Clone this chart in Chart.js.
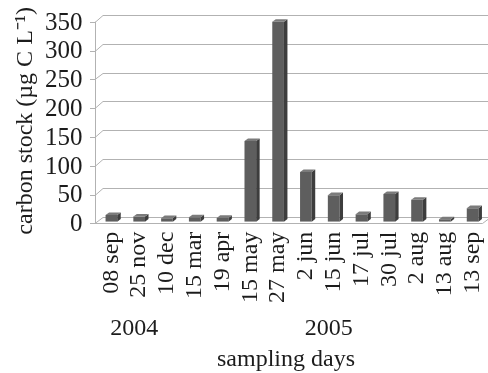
<!DOCTYPE html>
<html>
<head>
<meta charset="utf-8">
<script src="https://cdn.jsdelivr.net/npm/chart.js@4/dist/chart.umd.min.js"></script>
<style>
  html, body { margin: 0; padding: 0; background: #ffffff; }
  #wrap { width: 488px; height: 373px; position: relative; }
</style>
</head>
<body>
<div id="wrap"><canvas id="chart" width="488" height="373"></canvas></div>
<script>
// Sampling dates and measured carbon stock (µg C L⁻¹)
const categories = ['08 sep', '25 nov', '10 dec', '15 mar', '19 apr', '15 may', '27 may',
                    '2 jun', '15 jun', '17 jul', '30 jul', '2 aug', '13 aug', '13 sep'];
const carbonStock = [11.5, 9, 6, 7.5, 6.5, 140, 347, 86, 46, 13, 48, 38, 4, 23.5];
const yTicks = [0, 50, 100, 150, 200, 250, 300, 350];
const years = ['2004', '2005'];
const yearAnchorIndex = [1, 8];

const SERIF = "'Liberation Serif', 'Times New Roman', serif";
const TEXT = '#1c1c1c';
const GRID = '#b2b2b2';
const Y_AXIS_WIDTH = 97.5;

// Pseudo-3D offsets for the front edge and back wall of the plot box
const FRONT = { dx: -2.5, dy: 1.7 };
const BACK = { dx: 5.5, dy: -5 };
const DEPTH = { dx: 3.5, dy: -2.6 };

const crisp = v => Math.round(v) + 0.5;

// Rotated labels make Chart.js reserve side padding that this layout does not need
const noEdgePadding = scale => {
  scale.paddingLeft = 0;
  scale.paddingRight = 0;
  scale.paddingTop = 0;
  scale.paddingBottom = 0;
};

const boxPlugin = {
  id: 'box3d',
  beforeDatasetsDraw(chart) {
    const ctx = chart.ctx;
    const { left, right } = chart.chartArea;
    const y = chart.scales.y;
    ctx.save();
    ctx.strokeStyle = GRID;
    ctx.lineWidth = 1;
    const fx = left + FRONT.dx, bx = left + BACK.dx;
    yTicks.forEach(v => {
      const py = y.getPixelForValue(v);
      ctx.beginPath();
      // side wall slant + back wall line
      ctx.moveTo(fx, crisp(py + FRONT.dy));
      ctx.lineTo(bx, crisp(py + BACK.dy));
      ctx.lineTo(chart.width, crisp(py + BACK.dy));
      // outward tick mark
      ctx.moveTo(fx - 5, crisp(py + FRONT.dy));
      ctx.lineTo(fx, crisp(py + FRONT.dy));
      ctx.stroke();
    });
    // left wall front edge
    const y0 = y.getPixelForValue(0), yMax = y.getPixelForValue(yTicks[yTicks.length - 1]);
    ctx.beginPath();
    ctx.moveTo(crisp(fx), y0 + FRONT.dy);
    ctx.lineTo(crisp(fx), yMax + FRONT.dy);
    // floor front edge
    const fr = right - 4;
    ctx.moveTo(fx, crisp(y0 + FRONT.dy));
    ctx.lineTo(fr, crisp(y0 + FRONT.dy));
    ctx.lineTo(fr + (BACK.dx - FRONT.dx), crisp(y0 + BACK.dy));
    ctx.stroke();
    ctx.restore();
  },
  afterDatasetsDraw(chart) {
    const ctx = chart.ctx;
    const meta = chart.getDatasetMeta(0);
    ctx.save();
    meta.data.forEach(bar => {
      const { x, y, base, width } = bar.getProps(['x', 'y', 'base', 'width'], true);
      const l = x - width / 2, r = x + width / 2;
      // side face
      ctx.fillStyle = '#3d3d3d';
      ctx.beginPath();
      ctx.moveTo(r, y);
      ctx.lineTo(r + DEPTH.dx, y + DEPTH.dy);
      ctx.lineTo(r + DEPTH.dx, base + DEPTH.dy);
      ctx.lineTo(r, base);
      ctx.closePath();
      ctx.fill();
      // top face
      ctx.fillStyle = '#7b7b7b';
      ctx.beginPath();
      ctx.moveTo(l, y);
      ctx.lineTo(l + DEPTH.dx, y + DEPTH.dy);
      ctx.lineTo(r + DEPTH.dx, y + DEPTH.dy);
      ctx.lineTo(r, y);
      ctx.closePath();
      ctx.fill();
    });
    ctx.restore();
  },
  afterDraw(chart) {
    const ctx = chart.ctx;
    const xs = chart.scales.x;
    const { left, right } = chart.chartArea;
    ctx.save();
    ctx.fillStyle = TEXT;
    ctx.font = '24px ' + SERIF;
    ctx.textAlign = 'center';
    ctx.textBaseline = 'middle';
    years.forEach((yr, i) => {
      ctx.fillText(yr, xs.getPixelForValue(yearAnchorIndex[i]) - 5, 329);
    });
    ctx.fillText('sampling days', (left + right) / 2 - 6, 360);
    ctx.restore();
  }
};

new Chart(document.getElementById('chart'), {
  type: 'bar',
  data: {
    labels: categories,
    datasets: [{
      data: carbonStock,
      backgroundColor: '#5e5e5e',
      borderWidth: 0,
      barPercentage: 0.42,
      categoryPercentage: 1.0
    }]
  },
  options: {
    responsive: false,
    animation: false,
    devicePixelRatio: 1,
    layout: { padding: { top: 20, right: 1.5, bottom: 60, left: 0 } },
    plugins: { legend: { display: false }, tooltip: { enabled: false } },
    scales: {
      x: {
        afterFit: noEdgePadding,
        grid: { display: false, drawTicks: false },
        border: { display: false },
        ticks: {
          autoSkip: false,
          maxRotation: 90,
          minRotation: 90,
          padding: 10,
          color: TEXT,
          font: { family: SERIF, size: 24 }
        }
      },
      y: {
        min: 0,
        max: 350,
        afterBuildTicks(scale) { scale.ticks = yTicks.map(v => ({ value: v })); },
        afterFit(scale) {
          noEdgePadding(scale);
          scale.width = Y_AXIS_WIDTH;
        },
        grid: { display: false, drawTicks: false },
        border: { display: false },
        ticks: {
          autoSkip: false,
          padding: 15,
          labelOffset: 3,
          color: TEXT,
          font: { family: SERIF, size: 25 }
        },
        title: {
          display: true,
          text: 'carbon stock (µg C L⁻¹)',
          color: TEXT,
          font: { family: SERIF, size: 24 },
          padding: { top: 11.5, bottom: 4.7 }
        }
      }
    }
  },
  plugins: [boxPlugin]
});
</script>
</body>
</html>
